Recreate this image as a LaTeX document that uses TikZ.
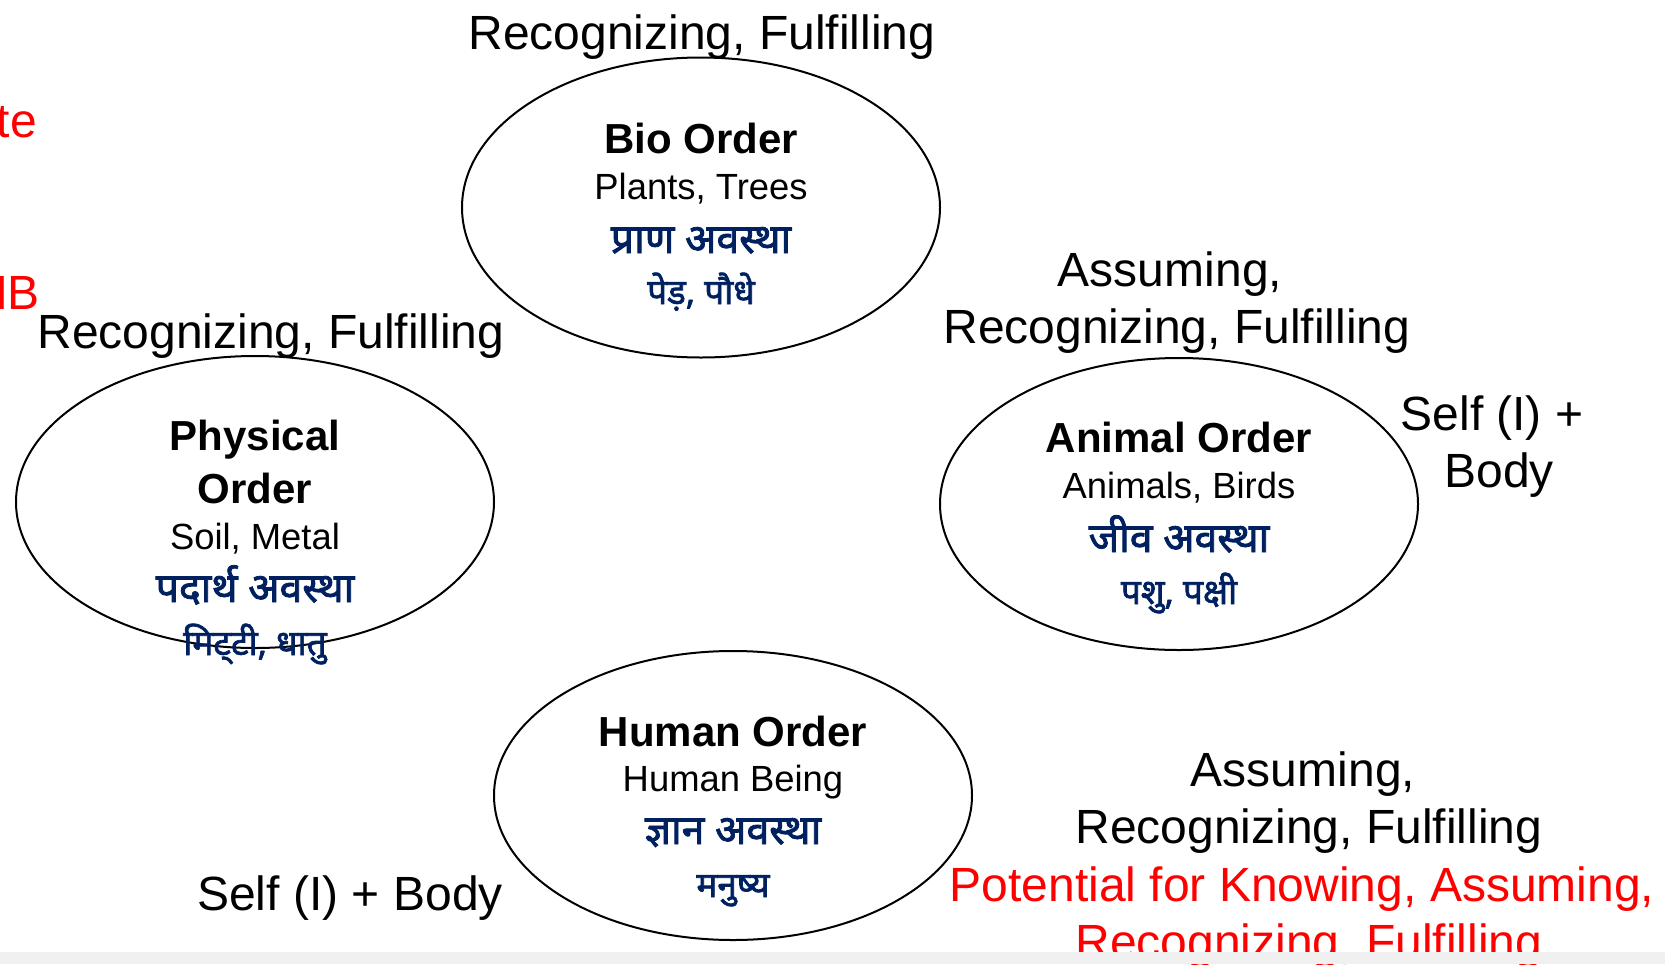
\documentclass[tikz,border=0pt]{standalone}
\usepackage{fontspec}
\setmainfont{Liberation Sans}
\newfontfamily\hindi[Script=Devanagari, FakeBold=2]{Noto Sans}
\usetikzlibrary{shapes.geometric}
\definecolor{navy}{RGB}{0,32,96}
\definecolor{stripgray}{RGB}{240,240,240}
\tikzset{
  order/.style={draw=black, line width=2pt, ellipse, minimum width=478pt, minimum height=292pt, inner sep=0pt},
  lbl/.style={anchor=base, inner sep=0pt, font=\fontsize{48}{57}\selectfont},
  redlbl/.style={lbl, text=red},
  ttl/.style={anchor=base, inner sep=0pt, font=\fontsize{42}{50}\selectfont\bfseries},
  sub/.style={anchor=base, inner sep=0pt, font=\fontsize{36.4}{44}\selectfont},
  hinA/.style={anchor=base, inner sep=0pt, text=navy, font=\hindi\fontsize{41}{48}\selectfont},
  hinB/.style={anchor=base, inner sep=0pt, text=navy, font=\hindi\fontsize{35}{42}\selectfont},
}
\begin{document}
\begin{tikzpicture}[x=1pt,y=-1pt]
\useasboundingbox (0,0) rectangle (1665,964);
\clip (0,0) rectangle (1665,964);
% ellipses
\node[order, minimum height=300pt] (bio) at (701,207.5) {};
\node[order] (phys) at (255,502) {};
\node[order] (anim) at (1179,504) {};
\node[order, minimum height=289pt] (hum) at (733,795.5) {};
% Bio order
\node[ttl] (bioT) at (701,153) {Bio Order};
\node[sub] (bioS) at (701,199) {Plants, Trees};
\node[hinA] (bioH) at (701,253) {प्राण अवस्था};
\node[hinB] (bioH2) at (701,304) {पेड़, पौधे};
% Physical order
\node[ttl] (physT1) at (255,450) {Physical};
\node[ttl] (physT2) at (255,503) {Order};
\node[sub] (physS) at (255,549) {Soil, Metal};
\node[hinA] (physH) at (255,602) {पदार्थ अवस्था};
\node[hinB] (physH2) at (255,655) {मिट्‌टी, धातु};
% Animal order
\node[ttl] (animT) at (1179,452) {Animal Order};
\node[sub] (animS) at (1179,498) {Animals, Birds};
\node[hinA] (animH) at (1179,552) {जीव अवस्था};
\node[hinB] (animH2) at (1179,604) {पशु, पक्षी};
% Human order
\node[ttl] (humT) at (733,746) {Human Order};
\node[sub] (humS) at (733,791) {Human Being};
\node[hinA] (humH) at (733,844) {ज्ञान अवस्था};
\node[hinB] (humH2) at (733,897) {मनुष्य};
% labels
\node[lbl] (topL) at (702,49) {Recognizing, Fulfilling};
\node[lbl] (leftL) at (271,348) {Recognizing, Fulfilling};
\node[lbl] (arA) at (1170,286) {Assuming,};
\node[lbl] (arB) at (1177,343) {Recognizing, Fulfilling};
\node[lbl] (selfA) at (1492,430) {Self (I) +};
\node[lbl] (selfB) at (1499,487) {Body};
\node[lbl] (selfH) at (350,910) {Self (I) + Body};
\node[lbl] (brA) at (1303,786) {Assuming,};
\node[lbl] (brB) at (1309,843) {Recognizing, Fulfilling};
\node[redlbl] (brC) at (1302,901) {Potential for Knowing, Assuming,};
\node[redlbl] (brD) at (1309,958) {Recognizing, Fulfilling};
\node[redlbl, anchor=base east] (redte) at (37,137) {te};
\node[redlbl, anchor=base east] (redhb) at (40,309) {HB};
% bottom strip
\fill[stripgray] (0,952) rectangle (1665,964);
\end{tikzpicture}
\end{document}
